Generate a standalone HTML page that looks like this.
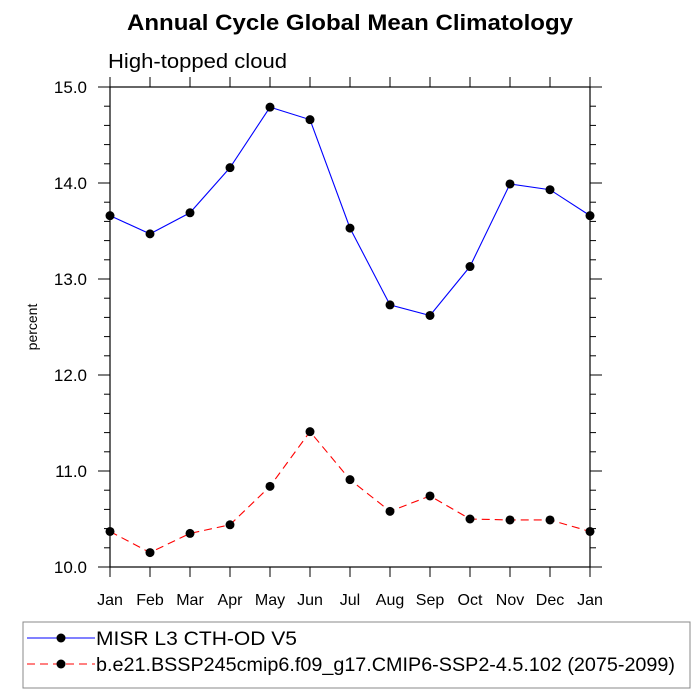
<!DOCTYPE html>
<html><head><meta charset="utf-8"><style>body{margin:0;background:#fff}svg{display:block;font-family:"Liberation Sans",sans-serif}</style></head>
<body>
<svg id="c" width="700" height="700">
<text x="127" y="30" textLength="446" lengthAdjust="spacingAndGlyphs" font-size="22" font-weight="bold">Annual Cycle Global Mean Climatology</text>
<text x="108" y="68" textLength="179" lengthAdjust="spacingAndGlyphs" font-size="20">High-topped cloud</text>
<text transform="translate(37,327) rotate(-90)" text-anchor="middle" font-size="14">percent</text>
<rect x="110" y="87" width="480" height="480" fill="none" stroke="#000" stroke-width="1.2"/>
<g id="ticks"></g>
<g id="series"></g>
<rect x="23" y="622" width="667" height="66" fill="none" stroke="#888"/>
<g>
<line x1="27" y1="638" x2="95" y2="638" stroke="#00f"/><circle cx="61" cy="638" r="4.5"/>
<text x="96" y="645" textLength="201" lengthAdjust="spacingAndGlyphs" font-size="19">MISR L3 CTH-OD V5</text></g>
<g>
<line x1="27" y1="664" x2="95" y2="664" stroke="#f00" stroke-dasharray="8,5"/><circle cx="61" cy="664" r="4.5"/>
<text x="96" y="671" textLength="579" lengthAdjust="spacingAndGlyphs" font-size="19">b.e21.BSSP245cmip6.f09_g17.CMIP6-SSP2-4.5.102 (2075-2099)</text></g>
</svg>
<script>
const months=["Jan","Feb","Mar","Apr","May","Jun","Jul","Aug","Sep","Oct","Nov","Dec","Jan"];
const misr=[13.66,13.47,13.69,14.16,14.79,14.66,13.53,12.73,12.62,13.13,13.99,13.93,13.66];
const model=[10.37,10.15,10.35,10.44,10.84,11.41,10.91,10.58,10.74,10.50,10.49,10.49,10.37];
const yTicks=[10,11,12,13,14,15];
const NS="http://www.w3.org/2000/svg";
const X=i=>110+i*40, Y=v=>567-(v-10)*96;
const tg=document.getElementById('ticks'), sg=document.getElementById('series');
function mk(p,tag,a){const e=document.createElementNS(NS,tag);for(const k in a)e.setAttribute(k,a[k]);p.appendChild(e);return e;}
months.forEach((m,i)=>{
 mk(tg,'line',{x1:X(i),x2:X(i),y1:567,y2:577,stroke:'#000'});
 mk(tg,'line',{x1:X(i),x2:X(i),y1:87,y2:77,stroke:'#000'});
 const t=mk(tg,'text',{x:X(i),y:605,'text-anchor':'middle','font-size':16});t.textContent=m;
 
 
});
for(let v=10;v<=15.001;v+=0.2){const maj=Math.abs(v-Math.round(v))<0.01;const l=maj?12:6;
 mk(tg,'line',{x1:110,x2:110-l,y1:Y(v),y2:Y(v),stroke:'#000'});
 mk(tg,'line',{x1:590,x2:590+l,y1:Y(v),y2:Y(v),stroke:'#000'});}
yTicks.forEach(v=>{const t=mk(tg,'text',{x:87,y:Y(v)+6,'text-anchor':'end','font-size':17});t.textContent=v.toFixed(1);
 
 });
function draw(vals,color,dash,name){
 const p=mk(sg,'polyline',{points:vals.map((v,i)=>X(i)+','+Y(v)).join(' '),fill:'none',stroke:color,'stroke-width':1.1});
 if(dash)p.setAttribute('stroke-dasharray','8,5');
 
 
 vals.forEach((v,i)=>{const c=mk(sg,'circle',{cx:X(i),cy:Y(v),r:4.5});
 
 });
}
draw(misr,'#00f',false,'misr');
draw(model,'#f00',true,'model');
</script>
</body></html>
